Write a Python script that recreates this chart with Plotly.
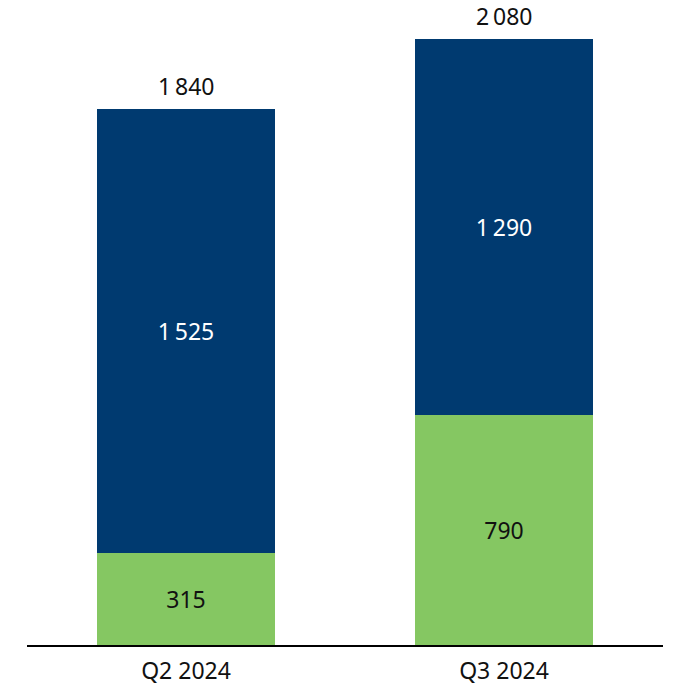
import plotly.graph_objects as go

quarters = ["Q2 2024", "Q3 2024"]
green_vals = [315, 790]
blue_vals = [1525, 1290]
totals = [g + b for g, b in zip(green_vals, blue_vals)]

GREEN = "rgb(133,199,98)"
BLUE = "rgb(0,58,112)"
FONT = "Noto Sans"


def fmt(v):
    # thousands separated by a thin space
    return f"{v:,}".replace(",", "\u2009")


fig = go.Figure()
fig.add_trace(go.Bar(
    x=quarters, y=green_vals, marker_color=GREEN, marker_line_width=0,
    text=[fmt(v) for v in green_vals], textposition="inside",
    insidetextanchor="middle", textfont=dict(color="#111111", size=23, family=FONT),
    width=0.56,
))
fig.add_trace(go.Bar(
    x=quarters, y=blue_vals, marker_color=BLUE, marker_line_width=0,
    text=[fmt(v) for v in blue_vals], textposition="inside",
    insidetextanchor="middle", textfont=dict(color="white", size=23, family=FONT),
    width=0.56,
))

for q, t in zip(quarters, totals):
    fig.add_annotation(x=q, y=t, text=fmt(t), showarrow=False, yanchor="bottom",
                       yshift=5, font=dict(size=23, color="#111111", family=FONT))

fig.update_layout(
    barmode="stack",
    width=675, height=686,
    margin=dict(l=27, r=12, t=0, b=41),
    paper_bgcolor="white", plot_bgcolor="white",
    showlegend=False,
    uniformtext=dict(mode=False),
    font=dict(family=FONT, size=20, color="#111111"),
    xaxis=dict(showline=True, linecolor="black", linewidth=2, ticks="",
               tickfont=dict(size=23, family=FONT, color="#111111"),
               ticklabelstandoff=4, automargin=False,
               range=[-0.5, 1.5]),
    yaxis=dict(visible=False, range=[0, 2214], automargin=False),
)

fig.write_html("out.html")
